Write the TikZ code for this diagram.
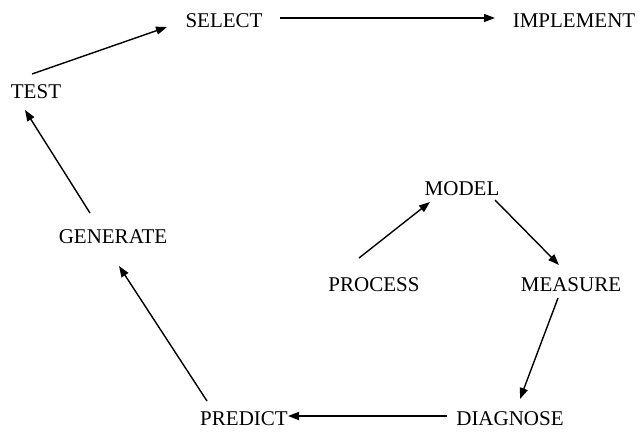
\documentclass[tikz,border=0pt]{standalone}
\usepackage{fontspec}
\setmainfont{Liberation Serif}
\usetikzlibrary{arrows.meta,calc}
\begin{document}
\begin{tikzpicture}[x=1pt,y=-1pt,
  lbl/.style={inner sep=0pt,font=\fontsize{21}{25}\selectfont},
  arr/.style={line width=1.4pt,-{Triangle[length=11pt,width=8pt]}}]
\useasboundingbox (0,0) rectangle (639,432);
\node[lbl] (select) at (224,21) {SELECT};
\node[lbl] (implement) at (574,21) {IMPLEMENT};
\node[lbl] (test) at (36,92) {TEST};
\node[lbl] (generate) at (113,237) {GENERATE};
\node[lbl] (predict) at (244,419) {PREDICT};
\node[lbl] (diagnose) at (510,419) {DIAGNOSE};
\node[lbl] (measure) at (571,285) {MEASURE};
\node[lbl] (model) at (462,189) {MODEL};
\node[lbl] (process) at (374,285) {PROCESS};
\draw[arr] ($(test)+(-4,-18)$) -- ($(select)+(-57,6)$);
\draw[arr] ($(select)+(56,-3)$) -- ($(implement)+(-79,-3)$);
\draw[arr] ($(generate)+(-23,-24)$) -- ($(test)+(-11,18)$);
\draw[arr] ($(predict)+(-37,-18)$) -- ($(generate)+(6,29)$);
\draw[arr] ($(diagnose)+(-63,-3)$) -- ($(predict)+(44,-3)$);
\draw[arr] ($(process)+(-15,-27)$) -- ($(model)+(-32,13)$);
\draw[arr] ($(model)+(33,11)$) -- ($(measure)+(-12,-20)$);
\draw[arr] ($(measure)+(-13,13)$) -- ($(diagnose)+(10,-20)$);
\end{tikzpicture}
\end{document}
